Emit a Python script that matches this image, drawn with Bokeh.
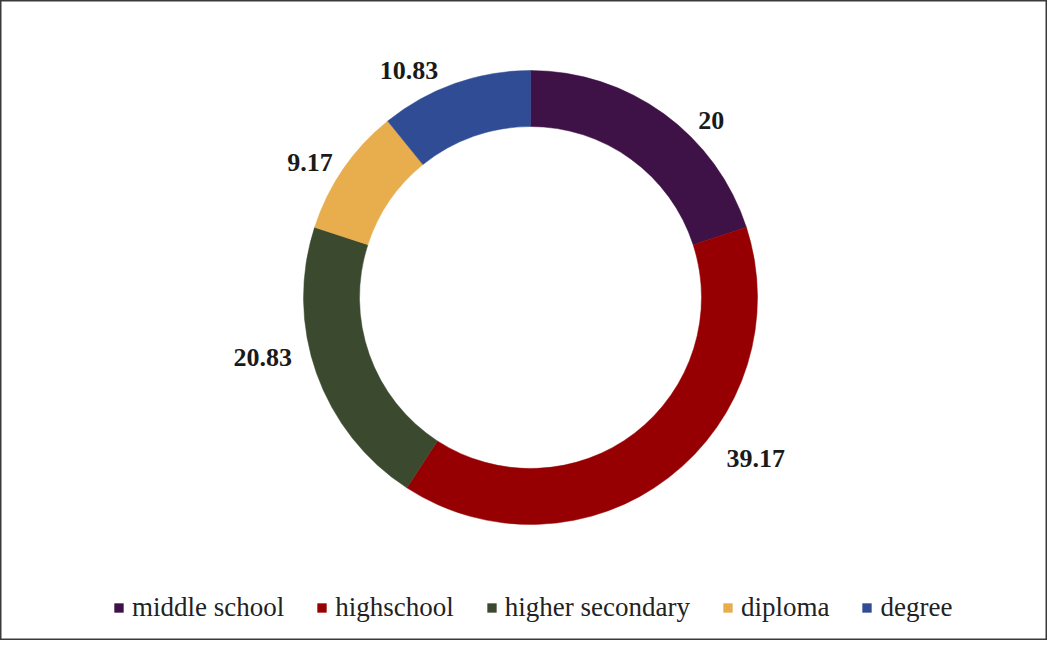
import math
from bokeh.plotting import figure
from bokeh.models import ColumnDataSource, Range1d, Legend, LegendItem
from bokeh.core.properties import value
from bokeh.embed import file_html
from bokeh.resources import INLINE

# ---- data ----
categories = ["middle school", "highschool", "higher secondary", "diploma", "degree"]
percent = [20, 39.17, 20.83, 9.17, 10.83]
labels = ["20", "39.17", "20.83", "9.17", "10.83"]
colors = ["#3e1147", "#970002", "#3b4a2f", "#e8ad4c", "#2f4c94"]

# ---- layout / style ----
W, H = 1047, 640
CX, CY = 530, 343          # donut centre in plot units (1 unit = 1 px)
R_OUT, R_IN = 227, 171
R_LABEL = 265
# pixel nudges of the data labels (screen x right, screen y down)
label_nudge_x = [25, 64, -18, -2, -33]
label_nudge_y = [37, -49, -28, 15, 23]

total = sum(percent)
starts, ends, lx, ly = [], [], [], []
cum = 0.0
for i, v in enumerate(percent):
    a0 = math.pi / 2 - 2 * math.pi * cum / total
    a1 = math.pi / 2 - 2 * math.pi * (cum + v) / total
    starts.append(a1)
    ends.append(a0)
    mid = (a0 + a1) / 2
    lx.append(CX + R_LABEL * math.cos(mid) + label_nudge_x[i])
    ly.append(CY + R_LABEL * math.sin(mid) - label_nudge_y[i])
    cum += v

src = ColumnDataSource(dict(cat=categories, val=percent, start=starts, end=ends,
                            color=colors, lx=lx, ly=ly, label=labels))

p = figure(width=W, height=H, output_backend="svg", toolbar_location=None,
           x_range=Range1d(0, W), y_range=Range1d(0, H), min_border=0)
p.axis.visible = False
p.grid.visible = False
p.background_fill_color = "white"
p.border_fill_color = "white"
p.outline_line_color = "#3a3a3a"
p.outline_line_width = 2

renderers = []
for i in range(len(categories)):
    r = p.annular_wedge(x=CX, y=CY, inner_radius=R_IN, outer_radius=R_OUT,
                        start_angle=starts[i], end_angle=ends[i], direction="anticlock",
                        fill_color=colors[i], line_color=colors[i], line_width=0.5)
    renderers.append(r)

p.text(x="lx", y="ly", text="label", source=src, text_align="center",
       text_baseline="middle", text_font=value("Liberation Serif"),
       text_font_style="bold", text_font_size="26px", text_color="#1a1a1a")

legend = Legend(items=[LegendItem(label=categories[i], renderers=[renderers[i]])
                       for i in range(len(categories))],
                orientation="horizontal", location=(113, 17),
                label_text_font="Liberation Serif",
                label_text_font_size="27px",
                label_text_color="#222222",
                glyph_width=11, glyph_height=11,
                label_standoff=8, spacing=32, padding=0, margin=0,
                border_line_color=None, background_fill_alpha=0)
p.add_layout(legend, "center")

open("out.html", "w").write(file_html(p, INLINE))
